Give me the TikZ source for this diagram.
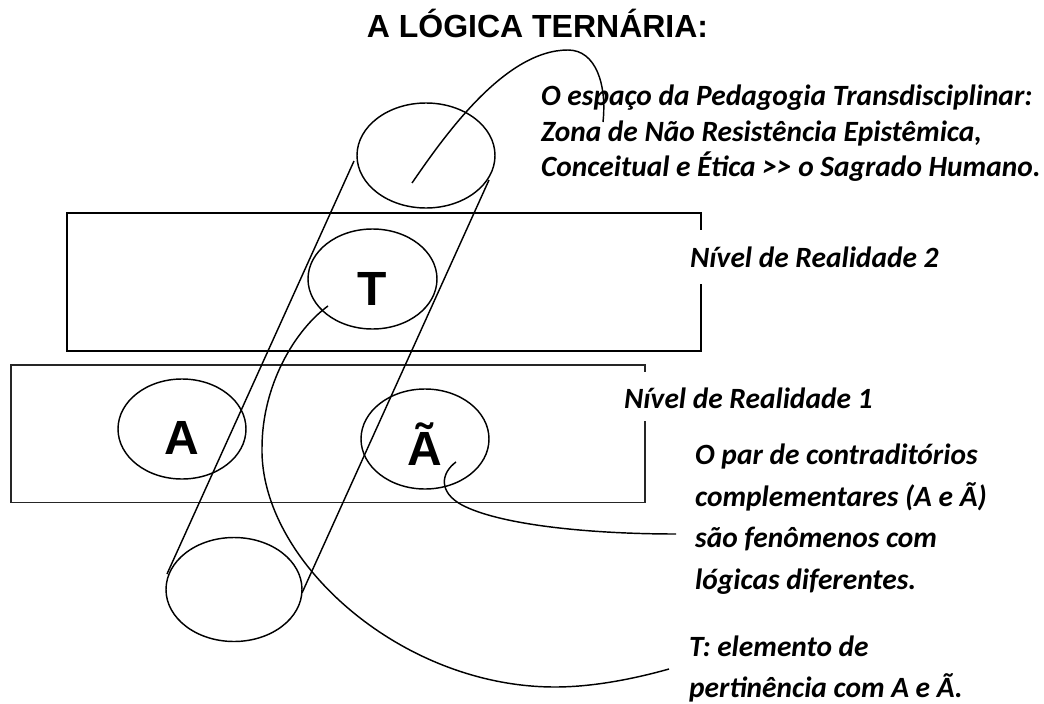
\documentclass[tikz,border=0pt]{standalone}
\usepackage{fontspec}
\setmainfont{Liberation Sans}
\newfontfamily\carl{Carlito}
\tikzset{
  box/.style={draw=black,line width=1.6pt,fill=none},
  boxb/.style={draw=black!85,line width=1.4pt,fill=none},
  oval/.style={draw=black,line width=1.45pt},
  conn/.style={draw=black,line width=1.45pt},
  big/.style={font=\fontsize{48}{48}\selectfont\bfseries,inner sep=0pt,anchor=base},
  note/.style={font=\carl\fontsize{29.4}{35.5}\selectfont\bfseries\itshape,align=left,anchor=north west,inner sep=0pt},
}
\begin{document}
\begin{tikzpicture}[x=1pt,y=-1pt]
\useasboundingbox (0,0) rectangle (1044,704);
\fill[white] (0,0) rectangle (1044,704);
\node[font=\fontsize{32}{36}\selectfont\bfseries,inner sep=0pt,anchor=base] (title) at (537.5,37) {A LÓGICA TERNÁRIA:};
% level rectangles
\draw[box] (67,213) rectangle (701,351);
\draw[boxb] (11,365) rectangle (645,502.5);
\fill[white] (695,230) rectangle (706,284);
\fill[white] (640,372) rectangle (650,421);
% ellipses
\draw[oval] (426,155.5) ellipse [x radius=69,y radius=52.5];
\draw[oval] (372.5,279) ellipse [x radius=64.5,y radius=50];
\draw[oval] (182,429) ellipse [x radius=64,y radius=50];
\draw[oval] (425,439) ellipse [x radius=64,y radius=50];
\draw[oval] (234,589.5) ellipse [x radius=68,y radius=52];
% tube
\coordinate (tl) at (354,161);
\coordinate (bl) at (167,574);
\coordinate (tr) at (489,180);
\coordinate (br) at (302,593);
\draw[conn] (tl) -- (bl);
\draw[conn] (tr) -- (br);
% leader curves
\coordinate (c1a) at (412,183);
\coordinate (c1b) at (603,122);
\draw[conn] (c1a) .. controls (445,135) and (505,50) .. (568,50) .. controls (596,50) and (607,85) .. (c1b);
\coordinate (c2a) at (328,306);
\coordinate (c2b) at (669,669);
\draw[conn] (c2a) .. controls (295,330) and (262,385) .. (262,448) .. controls (260,560) and (400,687) .. (555,687) .. controls (590,687) and (630,680) .. (c2b);
\coordinate (c3a) at (456,462);
\coordinate (c3b) at (676,534);
\draw[conn] (c3a) .. controls (441,473) and (438,492) .. (462,505) .. controls (500,525) and (590,534) .. (c3b);
% letters
\node[big] (T) at (372.5,305) {T};
\node[big] (A) at (182,454) {A};
\node[big] (Atil) at (425,465) {Ã};
% notes
\node[note] (n1) at (541,85) {O espaço da Pedagogia Transdisciplinar:\\Zona de Não Resistência Epistêmica,\\Conceitual e Ética >> o Sagrado Humano.};
\node[note] (n2) at (690,247) {Nível de Realidade 2};
\node[note] (n3) at (624,388) {Nível de Realidade 1};
\node[note,font=\carl\fontsize{29.4}{41.4}\selectfont\bfseries\itshape] (n4) at (695,444) {O par de contraditórios\\complementares (A e Ã)\\são fenômenos com\\lógicas diferentes.};
\node[note,font=\carl\fontsize{29.4}{41}\selectfont\bfseries\itshape] (n5) at (689,636) {T: elemento de\\pertinência com A e Ã.};
\end{tikzpicture}
\end{document}
